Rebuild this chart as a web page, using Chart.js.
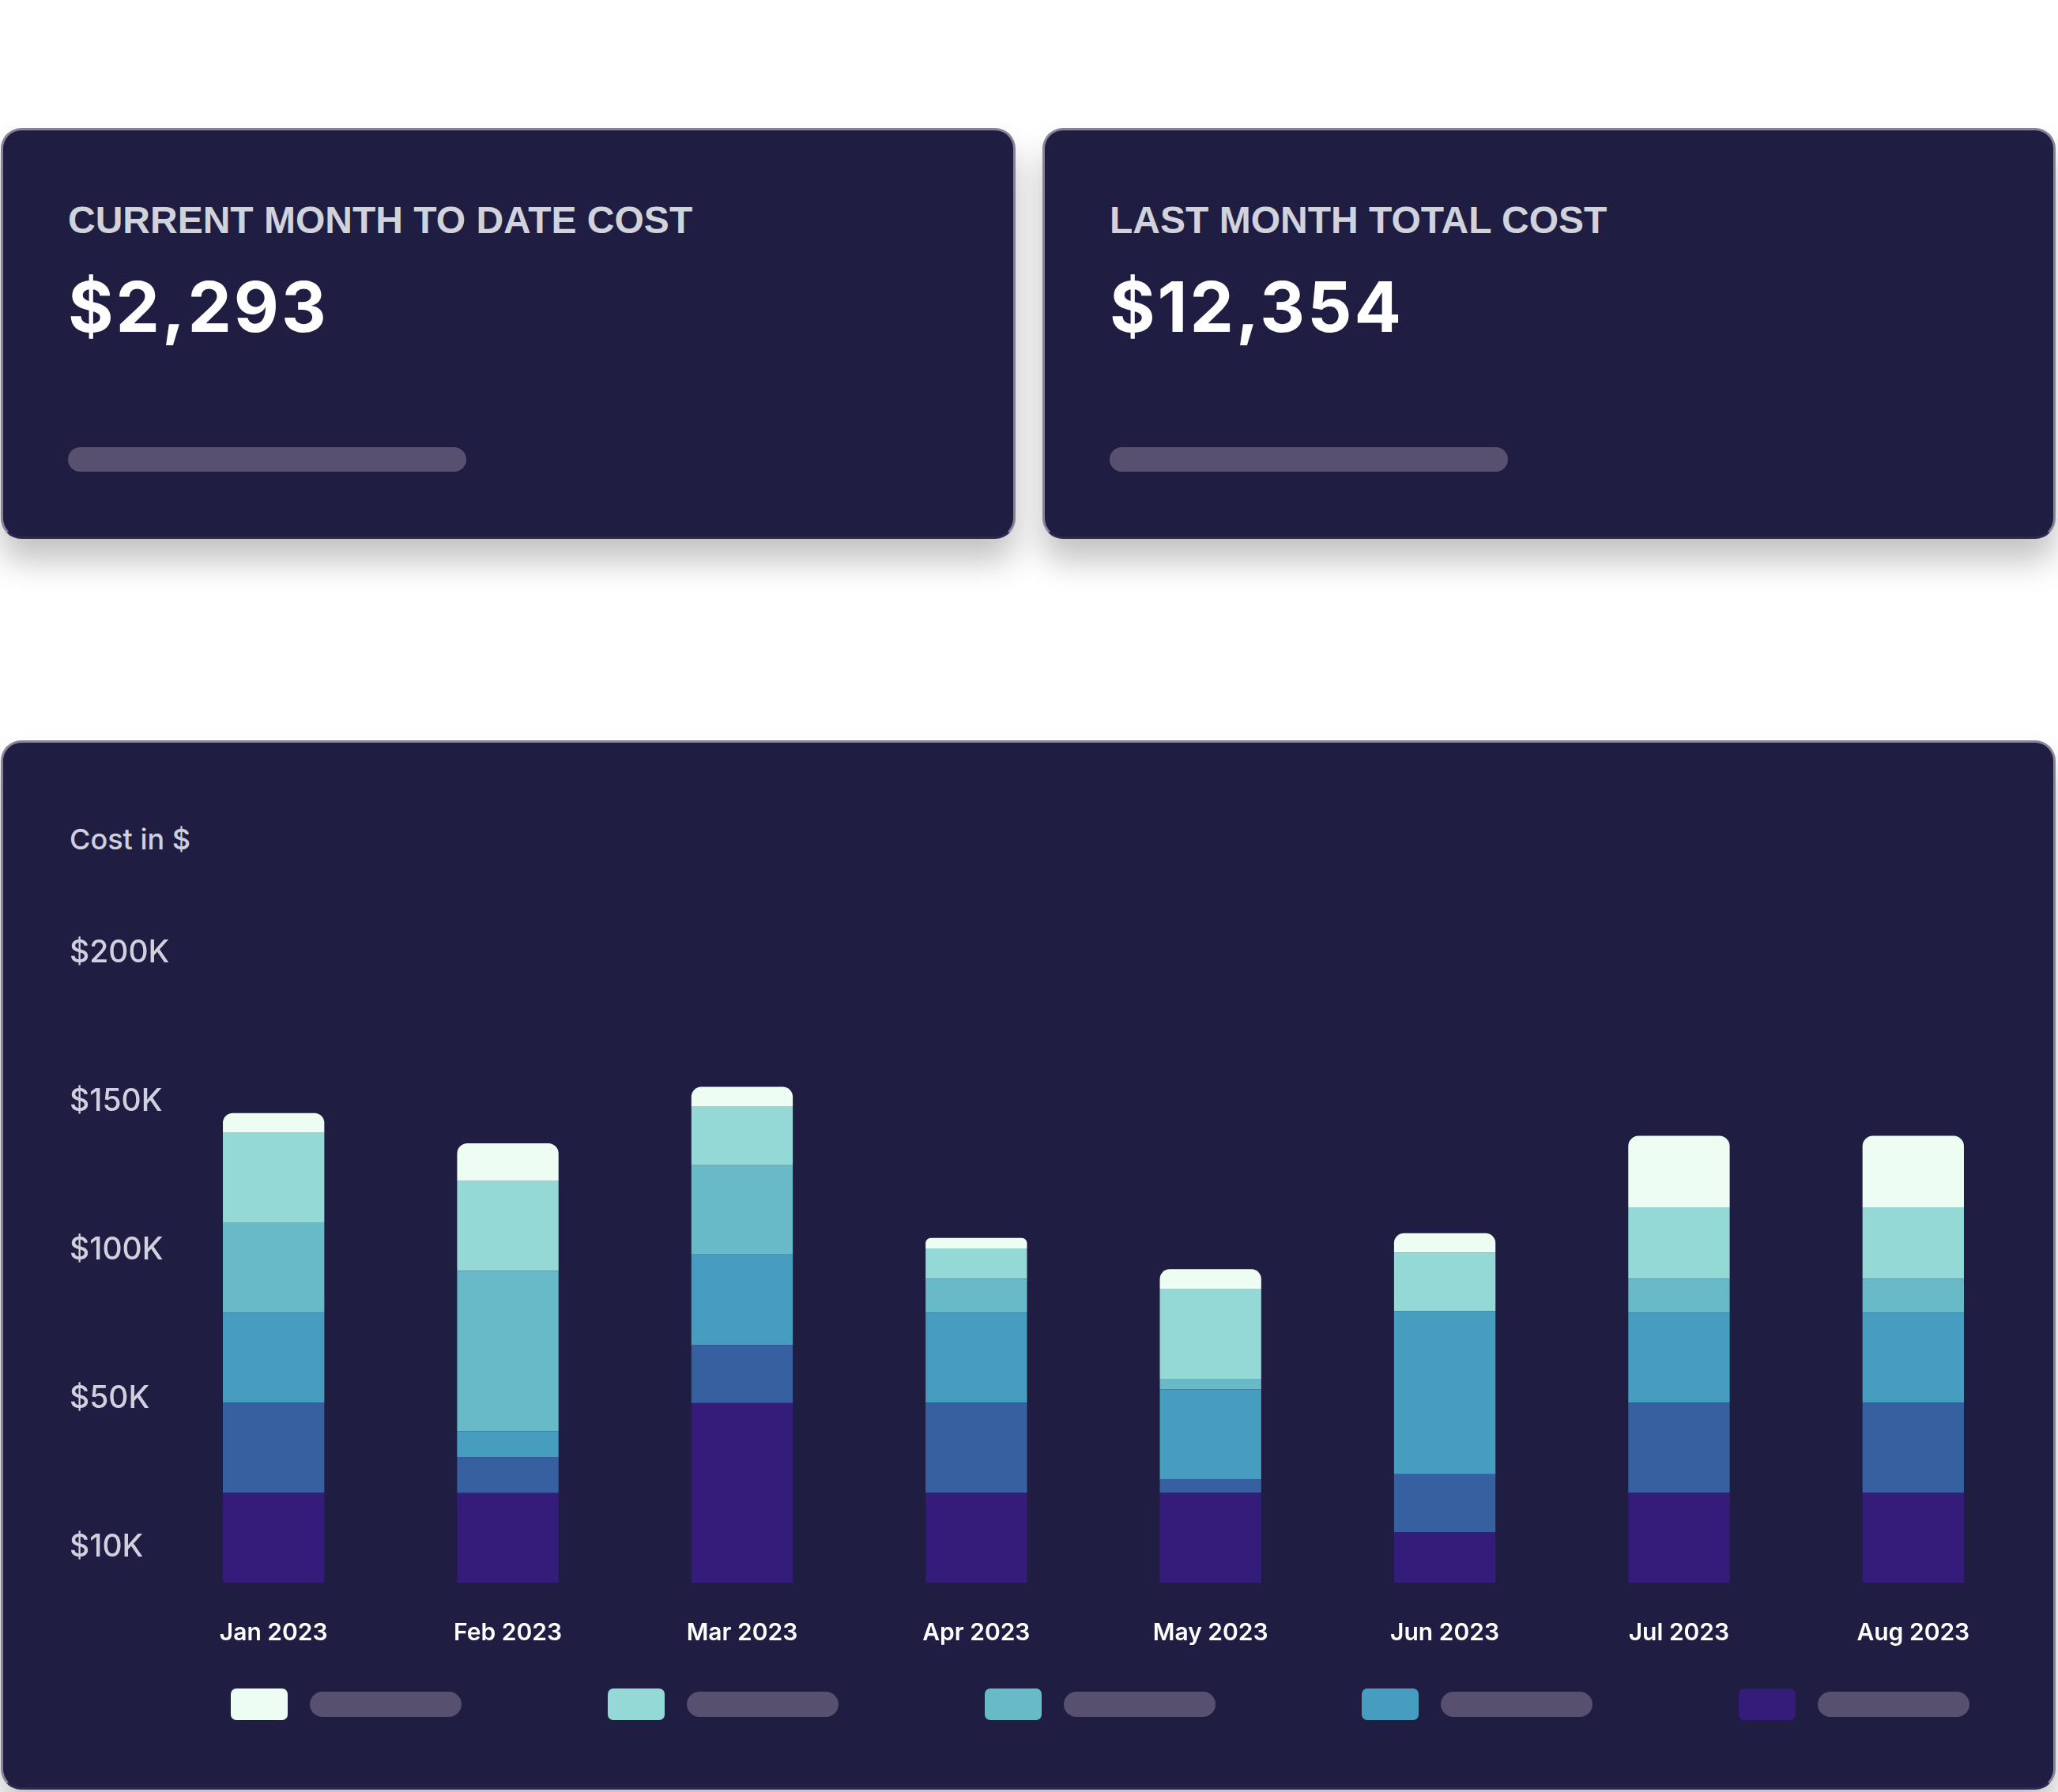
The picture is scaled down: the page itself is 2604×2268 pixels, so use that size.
<!DOCTYPE html>
<html>
<head>
<meta charset="utf-8">
<script src="https://cdn.jsdelivr.net/npm/chart.js@4.4.1/dist/chart.umd.min.js"></script>
<style>
  body {
    margin: 0;
    width: 2604px;
    height: 2268px;
    background: #ffffff;
    position: relative;
    overflow: hidden;
    font-family: Inter, "Noto Sans", sans-serif;
  }
  .card {
    position: absolute;
    box-sizing: border-box;
    background: #1f1d42;
    border: 3px solid #86839b;
    border-bottom-color: #2b2950;
    border-radius: 26px;
    box-shadow: 0 28px 40px rgba(0, 0, 0, 0.24);
  }
  .kpi-title {
    position: absolute;
    left: 82px;
    top: 90px;
    margin: 0;
    font-family: "Liberation Sans", Arial, sans-serif;
    font-weight: 700;
    font-size: 48px;
    line-height: 48px;
    color: #d0d3dc;
    white-space: nowrap;
  }
  .kpi-value {
    position: absolute;
    left: 82px;
    top: 179px;
    font-family: Inter, sans-serif;
    font-weight: 700;
    font-size: 88px;
    line-height: 88px;
    letter-spacing: 3px;
    color: #ffffff;
    white-space: nowrap;
  }
  .kpi-bar {
    position: absolute;
    left: 82px;
    top: 401px;
    width: 504px;
    height: 31px;
    border-radius: 16px;
    background: #57506f;
  }
  .axis-title {
    position: absolute;
    left: 84px;
    top: 104px;
    font-weight: 500;
    font-size: 36px;
    line-height: 36px;
    color: #cfd0df;
  }
  #chartWrap {
    position: absolute;
    left: 0;
    top: 1150px;
    width: 2604px;
    height: 981px;
  }
  .legend {
    position: absolute;
    left: 292px;
    top: 2137px;
    display: flex;
    gap: 185px;
  }
  .legend-item {
    display: flex;
    align-items: center;
  }
  .legend-swatch {
    width: 72px;
    height: 40px;
    border-radius: 7px;
    margin-right: 28px;
  }
  .legend-pill {
    width: 192px;
    height: 32px;
    border-radius: 16px;
    background: #57506f;
  }
</style>
</head>
<body>

<div class="card" style="left:1px; top:162px; width:1284px; height:520px;">
  <div class="kpi-title">CURRENT MONTH TO DATE COST</div>
  <div class="kpi-value">$2,293</div>
  <div class="kpi-bar"></div>
</div>

<div class="card" style="left:1319px; top:162px; width:1282px; height:520px;">
  <div class="kpi-title">LAST MONTH TOTAL COST</div>
  <div class="kpi-value">$12,354</div>
  <div class="kpi-bar"></div>
</div>

<div class="card" style="left:1px; top:937px; width:2600px; height:1328px;">
  <div class="axis-title">Cost in $</div>
</div>

<div id="chartWrap"><canvas id="costChart" width="2604" height="981"></canvas></div>

<div class="legend" id="legend"></div>

<script>
// Months on the x axis
const months = ['Jan 2023', 'Feb 2023', 'Mar 2023', 'Apr 2023', 'May 2023', 'Jun 2023', 'Jul 2023', 'Aug 2023'];

// Stacked cost segments, in $K, bottom to top
const purpleCost = [30.3, 30.2, 60.5, 30.3, 30.3, 17.0, 30.3, 30.3];
const darkBlueCost = [30.3, 12.0, 19.5, 30.3, 4.6, 19.5, 30.3, 30.3];
const blueCost = [30.3, 8.8, 30.5, 30.3, 30.2, 54.9, 30.3, 30.3];
const tealCost = [30.3, 54.0, 30.1, 11.5, 3.6, 0, 11.5, 11.5];
const lightTealCost = [30.3, 30.3, 19.7, 10.2, 30.3, 19.7, 24.0, 24.0];
const mintCost = [6.7, 12.7, 6.7, 3.5, 6.6, 6.6, 24.1, 24.1];

// Y axis tick labels and where they sit
const yTickValues = [12, 62, 112, 162, 212];
const yTickLabels = ['$10K', '$50K', '$100K', '$150K', '$200K'];

const colors = {
  purple: '#341c7b',
  darkBlue: '#3660a0',
  blue: '#479dc0',
  teal: '#69bac8',
  lightTeal: '#95d9d7',
  mint: '#edfdf3'
};

// Legend only shows five of the series
const legendColors = [colors.mint, colors.lightTeal, colors.teal, colors.blue, colors.purple];

const legend = document.getElementById('legend');
legendColors.forEach(c => {
  const item = document.createElement('div');
  item.className = 'legend-item';
  item.innerHTML = '<div class="legend-swatch" style="background:' + c + '"></div><div class="legend-pill"></div>';
  legend.appendChild(item);
});

const ctx = document.getElementById('costChart');

const costChart = new Chart(ctx, {
  type: 'bar',
  data: {
    labels: months,
    datasets: [
      { data: purpleCost, backgroundColor: colors.purple },
      { data: darkBlueCost, backgroundColor: colors.darkBlue },
      { data: blueCost, backgroundColor: colors.blue },
      { data: tealCost, backgroundColor: colors.teal },
      { data: lightTealCost, backgroundColor: colors.lightTeal },
      {
        data: mintCost,
        backgroundColor: colors.mint,
        borderRadius: { topLeft: 13, topRight: 13, bottomLeft: 0, bottomRight: 0 },
        borderSkipped: false
      }
    ]
  },
  options: {
    responsive: false,
    animation: false,
    devicePixelRatio: 1,
    layout: {
      padding: { left: 88, right: 35, top: 49, bottom: 0 }
    },
    datasets: {
      bar: {
        barPercentage: 0.433,
        categoryPercentage: 1
      }
    },
    plugins: {
      legend: { display: false },
      tooltip: { enabled: false }
    },
    scales: {
      x: {
        stacked: true,
        grid: { display: false, drawTicks: false },
        border: { display: false },
        ticks: {
          color: '#ffffff',
          padding: 46,
          maxRotation: 0,
          autoSkip: false,
          font: { family: 'Inter', size: 30, weight: '600' }
        }
      },
      y: {
        stacked: true,
        min: 0,
        max: 214,
        grid: { display: false, drawTicks: false },
        border: { display: false },
        afterBuildTicks: scale => {
          scale.ticks = yTickValues.map(v => ({ value: v }));
        },
        afterFit: scale => {
          scale.width = 110;
        },
        ticks: {
          color: '#d0d0df',
          mirror: true,
          padding: -110,
          crossAlign: 'near',
          font: { family: 'Inter', size: 39, weight: '500' },
          callback: (value, index) => yTickLabels[index]
        }
      }
    }
  }
});
</script>
</body>
</html>
